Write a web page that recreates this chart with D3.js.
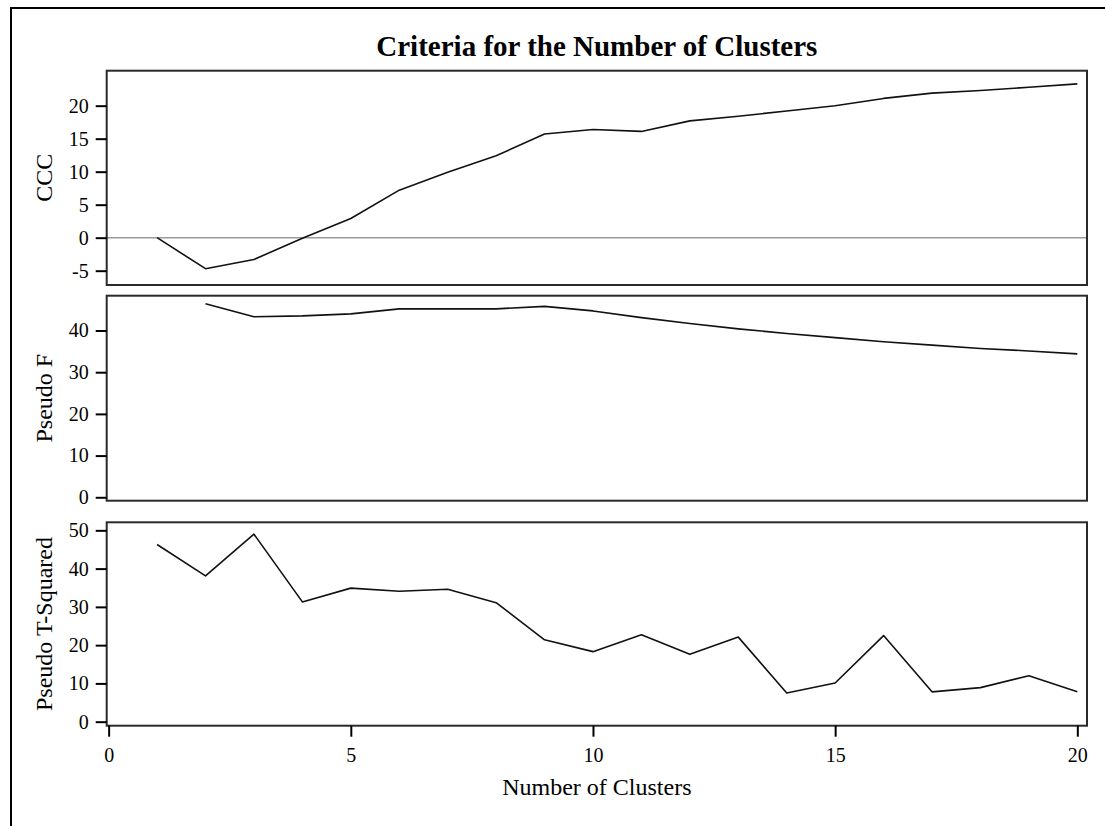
<!DOCTYPE html>
<html>
<head>
<meta charset="utf-8">
<script src="https://cdn.jsdelivr.net/npm/d3@7"></script>
<style>
  html, body { margin: 0; padding: 0; background: #fff; overflow: hidden; }
  svg { display: block; }
  text { font-family: "Liberation Serif", "Times New Roman", serif; fill: #000; }
</style>
</head>
<body>
<svg id="chart" width="1105" height="826"></svg>
<script>
// ---- data ----
const clusters = [1,2,3,4,5,6,7,8,9,10,11,12,13,14,15,16,17,18,19,20];
const ccc      = [0.0,-4.7,-3.3,-0.1,2.9,7.2,9.9,12.4,15.7,16.4,16.1,17.7,18.4,19.2,20.0,21.1,21.9,22.3,22.8,23.3];
const pseudoF  = [null,46.4,43.3,43.5,44.0,45.2,45.2,45.2,45.8,44.7,43.1,41.7,40.4,39.3,38.3,37.3,36.5,35.7,35.1,34.4];
const pseudoT2 = [46.3,38.1,49.0,31.3,34.9,34.1,34.6,31.1,21.4,18.3,22.7,17.6,22.1,7.5,10.1,22.5,7.8,8.9,12.0,7.8];
const xTicks   = [0,5,10,15,20];
const cccTicks = [-5,0,5,10,15,20];
const fTicks   = [0,10,20,30,40];
const t2Ticks  = [0,10,20,30,40,50];
const titleText = "Criteria for the Number of Clusters";
const xLabel = "Number of Clusters";
const labels = ["CCC", "Pseudo F", "Pseudo T-Squared"];

// ---- layout ----
const svg = d3.select("#chart");
const left = 106.7, right = 1087;
const x = d3.scaleLinear().domain([-0.04, 20.2]).range([left, right]);

const panels = [
  { label: labels[0], values: ccc,      ticks: cccTicks, domain: [-7.17, 25.3],  top: 70.7,  bottom: 285,   refZero: true },
  { label: labels[1], values: pseudoF,  ticks: fTicks,   domain: [-0.82, 48.35], top: 295.7, bottom: 500.7, refZero: false },
  { label: labels[2], values: pseudoT2, ticks: t2Ticks,  domain: [-1.05, 52.1],  top: 522.3, bottom: 725.7, refZero: false }
];

// outer border (extends past the right and bottom edges)
svg.append("path")
  .attr("d", "M11,1000 L11,8 L1200,8")
  .attr("fill", "none").attr("stroke", "#000").attr("stroke-width", 2);

// title
svg.append("text")
  .attr("x", (left + right) / 2).attr("y", 56)
  .attr("text-anchor", "middle")
  .style("font-size", "29px").style("font-weight", "bold")
  .text(titleText);

const fmt = d => String(d);

panels.forEach((p, i) => {
  const y = d3.scaleLinear().domain(p.domain).range([p.bottom, p.top]);
  const g = svg.append("g");

  if (p.refZero) {
    g.append("line")
      .attr("x1", left).attr("x2", right)
      .attr("y1", y(0)).attr("y2", y(0))
      .attr("stroke", "#999").attr("stroke-width", 1.5);
  }

  const line = d3.line()
    .defined(d => d[1] !== null)
    .x(d => x(d[0])).y(d => y(d[1]));
  g.append("path")
    .datum(clusters.map((c, k) => [c, p.values[k]]))
    .attr("d", line)
    .attr("fill", "none").attr("stroke", "#111").attr("stroke-width", 1.6)
    .attr("stroke-linejoin", "round");

  // frame
  g.append("rect")
    .attr("x", left).attr("y", p.top)
    .attr("width", right - left).attr("height", p.bottom - p.top)
    .attr("fill", "none").attr("stroke", "#2a2a2a").attr("stroke-width", 2);

  // y axis
  const yAxis = d3.axisLeft(y).tickValues(p.ticks).tickSize(11).tickPadding(7).tickFormat(fmt);
  const ya = g.append("g").attr("transform", `translate(${left},0)`).call(yAxis);
  ya.select(".domain").remove();
  ya.selectAll(".tick line").attr("stroke", "#000").attr("stroke-width", 2);
  ya.selectAll(".tick text")
    .style("font-family", '"Liberation Serif", serif').style("font-size", "20px").attr("fill", "#000");

  // y label
  g.append("text")
    .attr("transform", `translate(52,${(p.top + p.bottom) / 2}) rotate(-90)`)
    .attr("text-anchor", "middle")
    .style("font-size", "24px")
    .text(p.label);

  if (i === panels.length - 1) {
    const xAxis = d3.axisBottom(x).tickValues(xTicks).tickSize(11).tickPadding(11).tickFormat(fmt);
    const xa = g.append("g").attr("transform", `translate(0,${p.bottom})`).call(xAxis);
    xa.select(".domain").remove();
    xa.selectAll(".tick line").attr("stroke", "#000").attr("stroke-width", 2);
    xa.selectAll(".tick text")
      .style("font-family", '"Liberation Serif", serif').style("font-size", "20px").attr("fill", "#000");
    svg.append("text")
      .attr("x", (left + right) / 2).attr("y", 795)
      .attr("text-anchor", "middle")
      .style("font-size", "24px")
      .text(xLabel);
  }
});
</script>
</body>
</html>
